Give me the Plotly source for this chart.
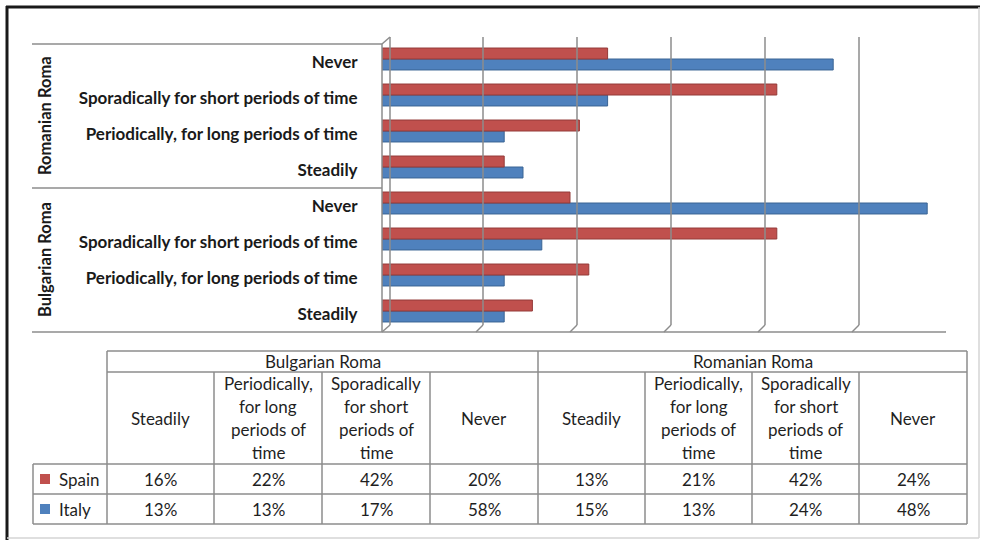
import plotly.graph_objects as go

# data
groups = ["Bulgarian Roma", "Romanian Roma"]
categories = ["Steadily", "Periodically, for long periods of time",
              "Sporadically for short periods of time", "Never"]
table_headers = [["Steadily"], ["Periodically,", "for long", "periods of", "time"],
                 ["Sporadically", "for short", "periods of", "time"], ["Never"]]
spain_bulgarian = [16, 22, 42, 20]
spain_romanian = [13, 21, 42, 24]
italy_bulgarian = [13, 13, 17, 58]
italy_romanian = [15, 13, 24, 48]

series = [
    ("Italy", "#4f81bd", "#3a6494", {"Bulgarian Roma": italy_bulgarian, "Romanian Roma": italy_romanian}),
    ("Spain", "#c0504d", "#943a38", {"Bulgarian Roma": spain_bulgarian, "Romanian Roma": spain_romanian}),
]

W, H = 987, 544
FONT = "Lato"
GRID = "#8c8c8c"


def px(x):
    return x / W


def py(y):
    return 1 - y / H


keys = [f"{g}|{c}" for g in groups for c in categories]

fig = go.Figure()
for name, color, edge, vals in series:
    fig.add_trace(go.Bar(
        y=[f"{g}|{c}" for g in groups for c in categories],
        x=[v / 100 for g in groups for v in vals[g]],
        orientation="h",
        name=name,
        marker=dict(color=color, line=dict(color=edge, width=1)),
        hoverinfo="skip",
    ))

shapes = []


def line(x0, y0, x1, y1, color=GRID, width=1.5):
    shapes.append(dict(type="line", xref="paper", yref="paper",
                       x0=px(x0), y0=py(y0), x1=px(x1), y1=py(y1),
                       line=dict(color=color, width=width)))


# outer frame
line(7, 6, 7, 540, color="#1a1a1a", width=3)
line(6, 7, 980, 7, color="#1a1a1a", width=3)
line(979, 7, 979, 538, color="#d4d4d4", width=1.5)
line(7, 538, 979, 538, color="#d4d4d4", width=1.5)

# category separators and 3D wall / floor
line(32, 44, 382, 44)
line(32, 188, 382, 188)
line(32, 332, 946, 332)
line(382, 44, 382, 332)
line(390, 37, 390, 325)
line(382, 44, 390, 37)
line(382, 332, 390, 325)

# back wall gridlines with slanted floor foot
for v in [0.1, 0.2, 0.3, 0.4, 0.5, 0.6]:
    shapes.append(dict(type="line", xref="x", yref="paper", xsizemode="pixel", xanchor=v,
                       x0=7, x1=7, y0=py(37), y1=py(325), line=dict(color=GRID, width=1.5)))
    shapes.append(dict(type="line", xref="x", yref="paper", xsizemode="pixel", xanchor=v,
                       x0=7, x1=0, y0=py(325), y1=py(332), line=dict(color=GRID, width=1.5)))

annotations = []


def text(x, y, s, size=17, bold=False, anchor="center", angle=0, color="#1f1f1f"):
    annotations.append(dict(xref="paper", yref="paper", x=px(x), y=py(y), text=f"<b>{s}</b>" if bold else s,
                            showarrow=False, xanchor=anchor, yanchor="middle", textangle=angle,
                            font=dict(family=FONT, size=size, color=color)))


# group labels, rotated
text(45, 116, groups[1], size=16.5, bold=True, angle=-90, color="#1a1a1a")
text(45, 260, groups[0], size=16.5, bold=True, angle=-90, color="#1a1a1a")

# table
col_edges = [107, 214, 322, 430, 538, 645, 752, 859, 967]
row_edges = [351, 372, 464, 494, 524]

line(107, 351, 967, 351)
line(107, 372, 967, 372)
for y in row_edges[2:]:
    line(33, y, 967, y)
line(33, 464, 33, 524)
for i, x in enumerate(col_edges):
    top = 351 if i in (0, 4, 8) else 372
    line(x, top, x, 524)

for gi, g in enumerate(groups):
    text((col_edges[gi * 4] + col_edges[gi * 4 + 4]) / 2, 361.5, g)
    for ci, hdr in enumerate(table_headers):
        cx = (col_edges[gi * 4 + ci] + col_edges[gi * 4 + ci + 1]) / 2
        n = len(hdr)
        for li, s in enumerate(hdr):
            text(cx, 418 + (li - (n - 1) / 2) * 22.7, s)

row_series = [series[1], series[0]]
for ri, (name, color, edge, vals) in enumerate(row_series):
    cy = (row_edges[2 + ri] + row_edges[3 + ri]) / 2
    shapes.append(dict(type="rect", xref="paper", yref="paper",
                       x0=px(40), x1=px(50), y0=py(cy - 5), y1=py(cy + 5),
                       fillcolor=color, line=dict(width=0)))
    text(57, cy, name, anchor="left")
    for gi, g in enumerate(groups):
        for ci, v in enumerate(vals[g]):
            cx = (col_edges[gi * 4 + ci] + col_edges[gi * 4 + ci + 1]) / 2
            text(cx, cy, f"{v}%")

fig.update_layout(
    width=W, height=H,
    margin=dict(l=0, r=0, t=0, b=0),
    paper_bgcolor="white",
    plot_bgcolor="rgba(0,0,0,0)",
    barmode="group",
    bargap=0.39,
    bargroupgap=0,
    showlegend=False,
    xaxis=dict(domain=[px(382), px(946)], range=[0, 0.6], showgrid=False, zeroline=False,
               showticklabels=False, fixedrange=True),
    # bars sit a few px higher than the labels (3D depth), so shift the axis up and labels back down
    yaxis=dict(domain=[py(329), py(41)], type="category", categoryorder="array", categoryarray=keys,
               tickmode="array", tickvals=keys, ticktext=[c for g in groups for c in categories],
               ticks="outside", ticklen=20, tickcolor="rgba(0,0,0,0)", showgrid=False,
               zeroline=False, fixedrange=True, ticklabelshift=3,
               tickfont=dict(family=FONT, size=17, color="#1a1a1a", weight="bold")),
    shapes=shapes,
    annotations=annotations,
)

fig.write_html("out.html", config={"displayModeBar": False},
               post_script="document.body.style.margin='0';")
